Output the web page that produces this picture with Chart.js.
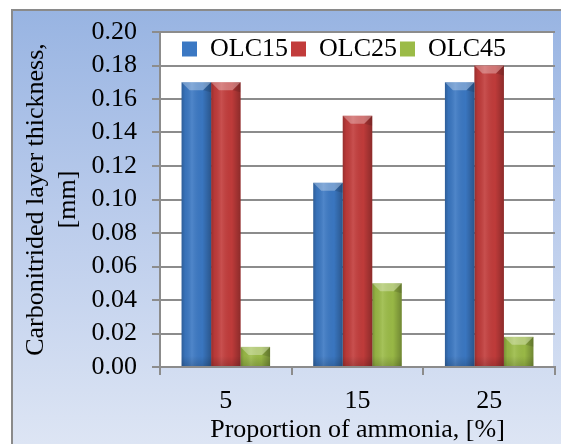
<!DOCTYPE html>
<html><head><meta charset="utf-8">
<script src="https://cdn.jsdelivr.net/npm/chart.js@4.4.1/dist/chart.umd.min.js"></script>
<style>html,body{margin:0;padding:0;background:#fff;overflow:hidden}#wrap{width:561px;height:444px}</style>
</head><body><div id="wrap"><canvas id="c" width="561" height="444"></canvas></div>
<script>
const categories = ['5', '15', '25'];
const seriesNames = ['OLC15', 'OLC25', 'OLC45'];
const olc15 = [0.17, 0.11, 0.17];
const olc25 = [0.17, 0.15, 0.18];
const olc45 = [0.012, 0.05, 0.018];
const yTicks = [0.00, 0.02, 0.04, 0.06, 0.08, 0.10, 0.12, 0.14, 0.16, 0.18, 0.20];
const yTitle = ['Carbonitrided layer thickness,', '[mm]'];
const xTitle = 'Proportion of ammonia, [%]';

const FONT = "'Liberation Serif', 'Times New Roman', serif";
const GRID = '#8c8c8c';

const bgPlugin = {
  id: 'bgPlugin',
  beforeDraw(chart) {
    const ctx = chart.ctx, ca = chart.chartArea;
    ctx.save();
    ctx.fillStyle = '#ffffff';
    ctx.fillRect(0, 0, chart.width, chart.height);
    const g = ctx.createLinearGradient(0, 10, 0, chart.height);
    g.addColorStop(0, '#98b4e2');
    g.addColorStop(0.5, '#bccdec');
    g.addColorStop(1, '#dde5f4');
    ctx.fillStyle = g;
    ctx.fillRect(12, 10, chart.width - 12, chart.height - 10);
    ctx.strokeStyle = '#8a8a8a';
    ctx.lineWidth = 2;
    ctx.beginPath();
    ctx.moveTo(12, chart.height);
    ctx.lineTo(12, 10);
    ctx.lineTo(chart.width, 10);
    ctx.stroke();
    ctx.fillStyle = '#ffffff';
    ctx.fillRect(ca.left, ca.top, ca.right - ca.left - 2, ca.bottom - ca.top);
    ctx.restore();
  }
};

const legendMover = {
  id: 'legendMover',
  beforeLayout(chart) {
    const lg = chart.legend;
    if (lg && !lg._patched) {
      const orig = Object.getPrototypeOf(lg).fit;
      lg.fit = function () { orig.call(this); this._realH = this.height; this.height = 0; };
      lg._patched = true;
    }
  },
  afterLayout(chart) {
    const lg = chart.legend, ca = chart.chartArea;
    if (!lg) return;
    lg.top = ca.top + 1;
    lg.bottom = lg.top + (lg._realH || 45);
    lg.left = ca.left;
    lg.right = 2 * 344 - ca.left;
    lg.width = lg.right - lg.left;
    lg.height = lg.bottom - lg.top;
  }
};

const barShade = {
  id: 'barShade',
  afterDatasetsDraw(chart) {
    const ctx = chart.ctx;
    ctx.save();
    chart.data.datasets.forEach((ds, di) => {
      const meta = chart.getDatasetMeta(di);
      meta.data.forEach(bar => {
        const p = bar.getProps(['x', 'y', 'base', 'width'], true);
        const l = p.x - p.width / 2, r = p.x + p.width / 2, w = p.width;
        const top = p.y, bot = p.base;
        const g = ctx.createLinearGradient(l, 0, r, 0);
        g.addColorStop(0, 'rgba(0,0,0,0.22)');
        g.addColorStop(0.12, 'rgba(0,0,0,0.05)');
        g.addColorStop(0.35, 'rgba(255,255,255,0.10)');
        g.addColorStop(0.7, 'rgba(0,0,0,0.02)');
        g.addColorStop(1, 'rgba(0,0,0,0.28)');
        ctx.fillStyle = g;
        ctx.fillRect(l, top, w, bot - top);
        const gb = ctx.createLinearGradient(0, bot - 10, 0, bot);
        gb.addColorStop(0, 'rgba(0,0,0,0)');
        gb.addColorStop(1, 'rgba(0,0,0,0.15)');
        ctx.fillStyle = gb;
        ctx.fillRect(l, Math.max(top, bot - 10), w, Math.min(10, bot - top));
        const h = Math.min(8, (bot - top) / 2);
        ctx.beginPath();
        ctx.moveTo(l, top);
        ctx.lineTo(r, top);
        ctx.lineTo(r - h, top + h);
        ctx.lineTo(l + h, top + h);
        ctx.closePath();
        ctx.fillStyle = 'rgba(255,255,255,0.30)';
        ctx.fill();
        ctx.beginPath();
        ctx.moveTo(r, top);
        ctx.lineTo(r, top + h + 2);
        ctx.lineTo(r - h, top + h);
        ctx.closePath();
        ctx.fillStyle = 'rgba(0,0,0,0.12)';
        ctx.fill();
      });
    });
    ctx.restore();
  }
};

new Chart(document.getElementById('c'), {
  type: 'bar',
  data: {
    labels: categories,
    datasets: [
      { label: seriesNames[0], data: olc15, backgroundColor: '#3b78c3' },
      { label: seriesNames[1], data: olc25, backgroundColor: '#c23c3b' },
      { label: seriesNames[2], data: olc45, backgroundColor: '#9bbb47' }
    ]
  },
  options: {
    responsive: false,
    animation: false,
    devicePixelRatio: 1,
    layout: { padding: { left: 12, right: 6, top: 32, bottom: 0 } },
    datasets: { bar: { categoryPercentage: 0.672, barPercentage: 1.0, borderWidth: 0 } },
    plugins: {
      tooltip: { enabled: false },
      legend: {
        display: true,
        position: 'top',
        align: 'center',
        labels: {
          color: '#000',
          font: { family: FONT, size: 26 },
          boxWidth: 15,
          boxHeight: 15,
          padding: 3
        }
      }
    },
    scales: {
      x: {
        grid: { display: true, drawOnChartArea: false, drawTicks: true, tickLength: 8, color: GRID, lineWidth: 2, offset: true },
        border: { display: true, color: GRID, width: 2 },
        ticks: { color: '#000', font: { family: FONT, size: 26 }, padding: 11, maxRotation: 0, autoSkip: false },
        title: { display: true, text: xTitle, color: '#000', font: { family: FONT, size: 26, lineHeight: 1.05 }, padding: { top: 0, bottom: 0 } },
        afterFit(s) { s.height = 77; }
      },
      y: {
        min: 0,
        max: 0.2,
        afterBuildTicks(s) { s.ticks = yTicks.map(v => ({ value: v })); },
        grid: { color: GRID, lineWidth: 2, drawTicks: true, tickLength: 8 },
        border: { display: true, color: GRID, width: 2 },
        ticks: { color: '#000', font: { family: FONT, size: 26 }, padding: 15, autoSkip: false, callback: v => Number(v).toFixed(2) },
        title: { display: true, text: yTitle, color: '#000', font: { family: FONT, size: 26, lineHeight: 1.2 }, padding: { top: 9, bottom: 0 } },
        afterFit(s) { s.width = 148; }
      }
    }
  },
  plugins: [bgPlugin, legendMover, barShade]
});
</script>
</body></html>
